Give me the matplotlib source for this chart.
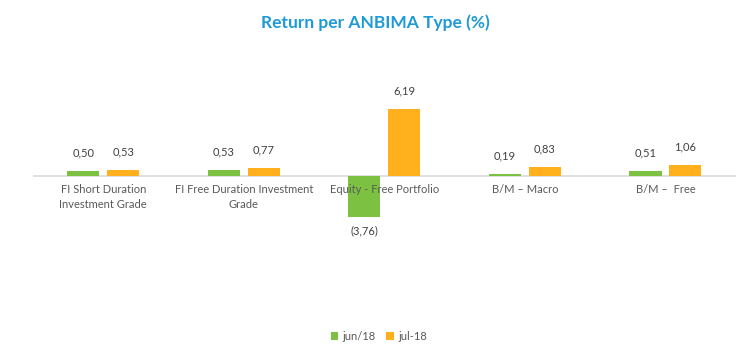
import matplotlib
matplotlib.use("Agg")
import matplotlib.pyplot as plt
import numpy as np

categories = ["FI Short Duration\nInvestment Grade", "FI Free Duration Investment\nGrade",
              "Equity - Free Portfolio", "B/M \u2013 Macro", "B/M \u2013  Free"]
jun18 = [0.50, 0.53, -3.76, 0.19, 0.51]
jul18 = [0.53, 0.77, 6.19, 0.83, 1.06]
series_names = ["jun/18", "jul-18"]

green = "#7DC142"
orange = "#FFB01C"
plt.rcParams['font.family'] = ['Lato', 'DejaVu Sans']

fig = plt.figure(figsize=(7.5, 3.56), dpi=100)
ax = fig.add_axes([0.044, (356 - 260) / 356, 0.937, 200 / 356])

x = np.arange(len(categories))
off = 0.142
w = 0.228
b1 = ax.bar(x - off, jun18, w, color=green, label=series_names[0], zorder=2)
b2 = ax.bar(x + off, jul18, w, color=orange, label=series_names[1], zorder=2)

ax.set_xlim(-0.5, len(categories) - 0.5)
ax.set_ylim(-7.74, 10.7)
ax.axhline(0, color="#D9D9D9", lw=1.2, zorder=1)
for s in ax.spines.values():
    s.set_visible(False)
ax.set_xticks([])
ax.set_yticks([])

def fmt(v):
    s = f"{abs(v):.2f}".replace(".", ",")
    return f"({s})" if v < 0 else s

for bars, vals in ((b1, jun18), (b2, jul18)):
    for r, v in zip(bars, vals):
        cx = r.get_x() + r.get_width() / 2
        if v >= 0:
            ax.annotate(fmt(v), (cx, v), xytext=(0, 9), textcoords="offset points",
                        ha="center", va="bottom", fontsize=8, color="#404040", zorder=4)
        else:
            ax.annotate(fmt(v), (cx, v), xytext=(0, -6), textcoords="offset points",
                        ha="center", va="top", fontsize=8, color="#404040", zorder=4)

for xi, lab in zip(x, categories):
    ax.annotate(lab, (xi, 0), xytext=(0, -6), textcoords="offset points",
                ha="center", va="top", fontsize=8, color="#595959",
                linespacing=1.35, zorder=5)

fig.text(0.5, 0.935, "Return per ANBIMA Type (%)", ha="center", va="center",
         fontsize=12.5, fontweight="bold", color="#1E9AD6")

leg = fig.legend(handles=[b1, b2], labels=series_names, loc="center",
                 bbox_to_anchor=(0.505, 0.055), ncol=2, frameon=False,
                 fontsize=8, handlelength=0.7, handleheight=0.7,
                 handletextpad=0.4, columnspacing=0.9)
for t in leg.get_texts():
    t.set_color("#595959")

fig.savefig("out.png", dpi=100)
